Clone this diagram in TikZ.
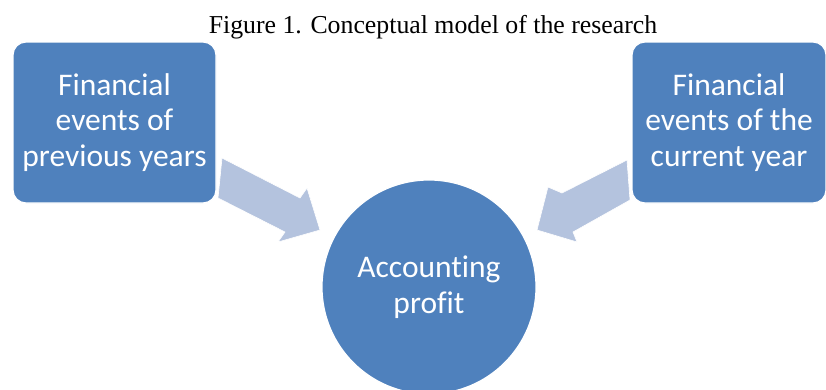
\documentclass[tikz,border=0pt]{standalone}
\usepackage{fontspec}
\setmainfont{Liberation Serif}
\newfontfamily\calibri[Ligatures=NoCommon]{Carlito}
\definecolor{smartblue}{RGB}{79,129,189}
\definecolor{arrowblue}{RGB}{180,195,222}
\begin{document}
\begin{tikzpicture}[x=1pt,y=-1pt,
	box/.style={draw=white,line width=1.2pt,fill=smartblue,rounded corners=13pt,text=white,align=center,
		font=\calibri\fontsize{31.5}{35.5}\selectfont,minimum height=161pt,inner sep=0pt},
	disc/.style={circle,draw=white,line width=1.2pt,fill=smartblue,text=white,align=center,
		font=\calibri\fontsize{31.5}{35.5}\selectfont,minimum size=214pt,inner sep=0pt},
	blockarrow/.style={fill=arrowblue,draw=white,line width=0.6pt}]
	\useasboundingbox (0,0) rectangle (826,389);
	\node[font=\fontsize{25.8}{30}\selectfont,anchor=base] (title) at (433,33) {Figure 1. Conceptual model of the research};
	% arrows go under the shapes
	\draw[blockarrow] (222,158)--(300,198)--(307,188)--(320,230)--(278,242)--(285,232)--(218,198)--cycle;
	\draw[blockarrow] (627,160)--(562,193)--(548,187)--(537,230)--(577,242)--(573,232)--(630,200)--cycle;
	\node[box,minimum width=203pt] (prev) at (114.5,122.5) {Financial\\events of\\previous years};
	\node[box,minimum width=194pt] (curr) at (729,122.5) {Financial\\events of the\\current year};
	\node[disc] (profit) at (429,287) {Accounting\\profit};
\end{tikzpicture}
\end{document}
